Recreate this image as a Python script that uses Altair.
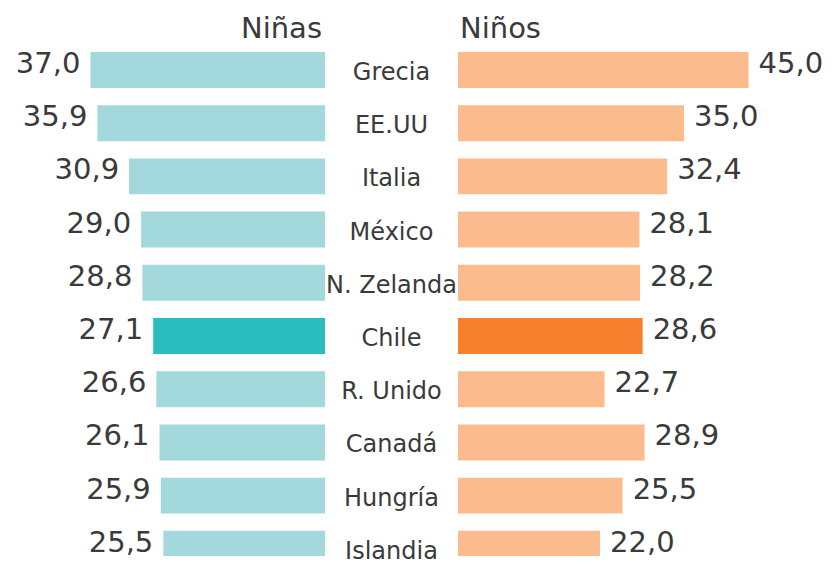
import altair as alt
import pandas as pd

paises = ["Grecia", "EE.UU", "Italia", "México", "N. Zelanda", "Chile",
          "R. Unido", "Canadá", "Hungría", "Islandia"]
ninas = [37.0, 35.9, 30.9, 29.0, 28.8, 27.1, 26.6, 26.1, 25.9, 25.5]
ninos = [45.0, 35.0, 32.4, 28.1, 28.2, 28.6, 22.7, 28.9, 25.5, 22.0]
encabezados = ["Niñas", "Niños"]
destacado = "Chile"

df = pd.DataFrame({
    "pais": paises,
    "ninas": ninas,
    "ninos": ninos,
    "idx": list(range(len(paises))),
})
df["y0"] = df["idx"] - 0.338
df["y1"] = df["idx"] + 0.338
df["cero"] = 0.0
df["lab_ninas"] = [f"{v:.1f}".replace(".", ",") for v in ninas]
df["lab_ninos"] = [f"{v:.1f}".replace(".", ",") for v in ninos]

hdr = pd.DataFrame({"txt": encabezados, "y": [-0.77, -0.77], "x": [0.0, 0.0]})

FONT = "DejaVu Sans"
TXT = "#3a3a3a"
H = 548
yscale = alt.Scale(domain=[-1.165, 9.135], reverse=True, nice=False, zero=False)
ynone = dict(axis=None, scale=yscale)

def side(field, lab, light, dark, width, domain, reverse, hdr_txt):
    xs = alt.Scale(domain=domain, reverse=reverse, nice=False, zero=False)
    base = alt.Chart(df)
    bars = base.mark_rect(clip=True).encode(
        x=alt.X(f"{field}:Q", axis=None, scale=xs),
        x2="cero:Q",
        y=alt.Y("y0:Q", **ynone),
        y2="y1:Q",
        color=alt.condition(alt.datum.pais == destacado, alt.value(dark), alt.value(light)),
    )
    vals = base.mark_text(
        font=FONT, fontSize=29, color=TXT,
        align="right" if reverse else "left",
        dx=-10 if reverse else 10, dy=-6, baseline="middle",
    ).encode(
        x=alt.X(f"{field}:Q", scale=xs),
        y=alt.Y("idx:Q", **ynone),
        text=f"{lab}:N",
    )
    head = alt.Chart(hdr[hdr.txt == hdr_txt]).mark_text(
        font=FONT, fontSize=29, color=TXT,
        align="right" if reverse else "left",
        dx=-3 if reverse else 2, baseline="middle",
    ).encode(
        x=alt.X("x:Q", scale=xs),
        y=alt.Y("y:Q", **ynone),
        text="txt:N",
    )
    return alt.layer(bars, vals, head).properties(width=width, height=H)

left = side("ninas", "lab_ninas", "#a3d8dc", "#2bbdbe", 317, [0, 50], True, "Niñas")
right = side("ninos", "lab_ninos", "#fbbb8c", "#f5812f", 368, [0, 57], False, "Niños")

middle = alt.Chart(df).mark_text(
    font=FONT, fontSize=24, color=TXT, align="center", baseline="middle", dy=3
).encode(
    x=alt.value(66.5),
    y=alt.Y("idx:Q", **ynone),
    text="pais:N",
).properties(width=133, height=H)

chart = alt.hconcat(left, middle, right, spacing=0).properties(
    padding=0
).configure(
    background="white",
    view=alt.ViewConfig(stroke="transparent", strokeWidth=0),
)

chart.save("out.html", embed_options={"renderer": "svg", "actions": False})
